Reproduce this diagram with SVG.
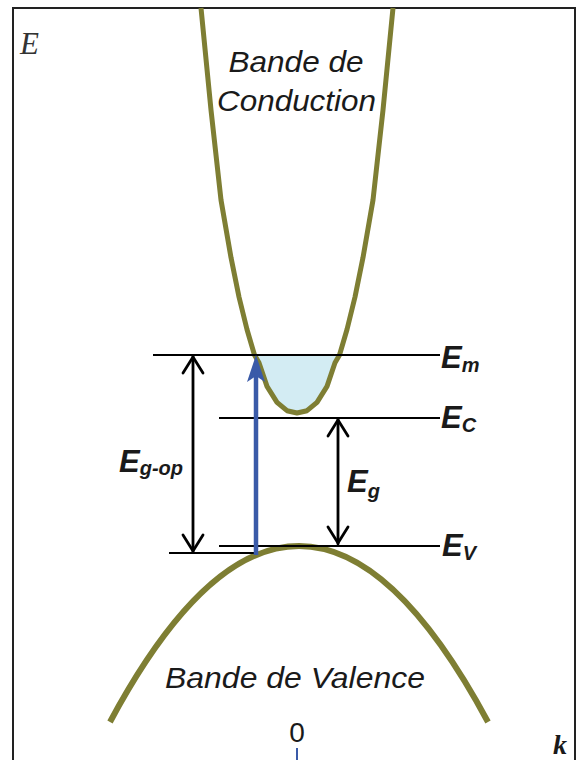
<svg xmlns="http://www.w3.org/2000/svg" width="576" height="760" viewBox="0 0 576 760">
<defs>
<style>
.band{fill:none;stroke:#7e7e33;stroke-linecap:butt;stroke-linejoin:round}
.lvl{stroke:#000;stroke-width:2;fill:none}
.arr{stroke:#000;stroke-width:2.8;fill:none;stroke-linecap:round;stroke-linejoin:round}
.lbl{font-family:"Liberation Sans",Arial,sans-serif;font-style:italic;fill:#1a1a1a}
.en{font-family:"Liberation Sans",Arial,sans-serif;font-style:italic;font-weight:bold;fill:#1a1a1a}
.sub{font-size:20px}
</style>
</defs>
<rect x="0" y="0" width="576" height="760" fill="#fff"/>
<path d="M13,760 V8 H575 V760" fill="none" stroke="#222" stroke-width="2"/>
<text x="20" y="54" font-family="Liberation Serif,serif" font-style="italic" font-size="31" fill="#333">E</text>

<g id="fill-region">
<polygon points="255,355 259,362.8 267,386.4 277,402.3 287,410.7 297,413 307,410.7 317,402.3 327,386.4 335,362.8 339.5,355" fill="#d3ecf3"/>
</g>

<g id="conduction-band">
<polyline class="band" stroke-width="5" points="201,8 211,110 221,200 231,257.6 239,297 247,329.5 254.5,355 259,362.8 267,386.4 277,402.3 287,410.7 297,413 307,410.7 317,402.3 327,386.4 335,362.8 339.5,355 347,329.5 355,297 363,257.6 373,200 383,110 393,8"/>
<text class="lbl" x="296" y="72" font-size="29" text-anchor="middle" textLength="135" lengthAdjust="spacingAndGlyphs">Bande de</text>
<text class="lbl" x="296.5" y="111" font-size="29" text-anchor="middle" textLength="159" lengthAdjust="spacingAndGlyphs">Conduction</text>
</g>

<g id="valence-band">
<path class="band" stroke-width="6" d="M110,722 Q299,370 488,722"/>
<text class="lbl" x="295" y="688" font-size="29" text-anchor="middle" textLength="260" lengthAdjust="spacingAndGlyphs">Bande de Valence</text>
</g>

<g id="levels">
<line class="lvl" x1="153" y1="355" x2="440" y2="355"/>
<line class="lvl" x1="219" y1="418" x2="440" y2="418"/>
<line class="lvl" x1="219" y1="546" x2="440" y2="546"/>
<line class="lvl" x1="169" y1="553" x2="256" y2="553"/>
</g>

<g id="label-Em"><text class="en" x="441" y="368" font-size="31">E<tspan class="sub" dy="4">m</tspan></text></g>
<g id="label-Ec"><text class="en" x="441" y="428" font-size="31">E<tspan class="sub" dy="4">C</tspan></text></g>
<g id="label-Ev"><text class="en" x="442" y="556" font-size="31">E<tspan class="sub" dy="4">V</tspan></text></g>
<g id="label-Eg"><text class="en" x="347" y="492" font-size="31">E<tspan class="sub" dy="6">g</tspan></text></g>
<g id="label-Egop"><text class="en" x="119" y="472" font-size="31">E<tspan class="sub" dy="3">g-op</tspan></text></g>

<g id="connectors">
<g id="arrow-Egop">
<line class="arr" x1="193" y1="356" x2="193" y2="552"/>
<polyline class="arr" points="183,373 193,357 203,373"/>
<polyline class="arr" points="183,535 193,551 203,535"/>
</g>
<g id="arrow-Eg">
<line class="arr" x1="338" y1="419" x2="338" y2="544"/>
<polyline class="arr" points="328,436 338,420 348,436"/>
<polyline class="arr" points="328,527 338,543 348,527"/>
</g>
<g id="arrow-optical">
<line x1="256" y1="555" x2="256" y2="372" stroke="#3a5aa8" stroke-width="4.5"/>
<path d="M256,355 L265,382 L256,376 L247,382 Z" fill="#3a5aa8"/>
</g>
</g>

<text x="297" y="742" font-family="Liberation Sans,Arial,sans-serif" font-size="28" text-anchor="middle" fill="#1a1a1a">0</text>
<line x1="297" y1="748" x2="297" y2="760" stroke="#3a5aa8" stroke-width="2"/>
<text x="553" y="754" font-family="Liberation Serif,serif" font-style="italic" font-weight="bold" font-size="28" fill="#1a1a1a">k</text>
</svg>
